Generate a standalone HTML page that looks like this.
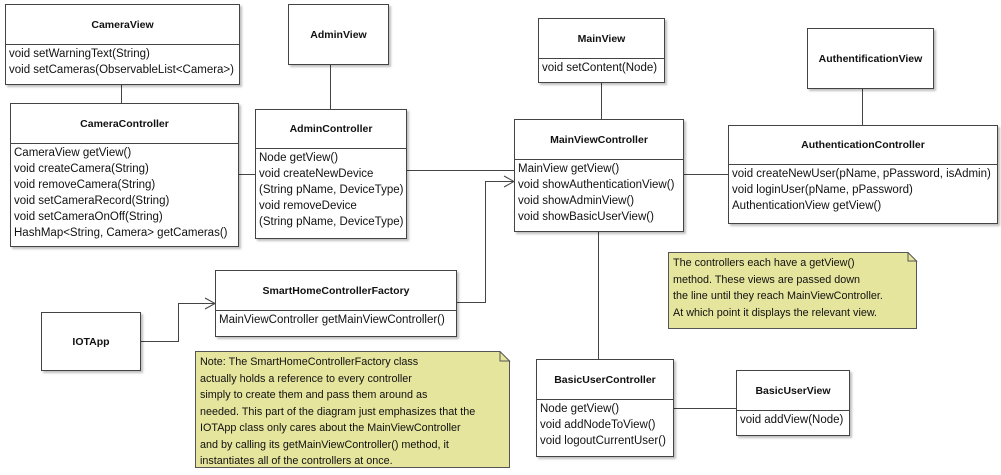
<!DOCTYPE html>
<html><head><meta charset="utf-8"><style>
body{margin:0;width:1001px;height:475px;background:#fff;position:relative;overflow:hidden;font-family:"Liberation Sans",sans-serif;font-size:11.5px;color:#111}
.b{position:absolute;background:#fff;border:1px solid #444;box-sizing:border-box;box-shadow:2px 2px 2px rgba(0,0,0,0.25)}
.t{font-weight:bold;font-size:10.5px;text-align:center;border-bottom:1px solid #444;box-sizing:border-box;display:flex;align-items:center;justify-content:center}
.m{padding:1px 3px;line-height:16px;white-space:nowrap}
.n{position:absolute;background:#e5e59d;border:1px solid #555;box-sizing:border-box;padding:2px 4px;line-height:16.5px;font-size:10.8px;white-space:nowrap;box-shadow:2px 2px 2px rgba(0,0,0,0.2)}
svg{position:absolute;left:0;top:0}
</style></head><body>
<svg width="1001" height="475">
<g stroke="#444" fill="none" stroke-width="1">
<line x1="121.5" y1="85" x2="121.5" y2="103"/>
<line x1="330.5" y1="64" x2="330.5" y2="109"/>
<line x1="238" y1="174.5" x2="255" y2="174.5"/>
<line x1="406" y1="170.5" x2="514" y2="170.5"/>
<polyline points="457,302.5 485.5,302.5 485.5,181.5 514,181.5"/>
<polyline points="504,176 514,181.5 504,187"/>
<polyline points="140,341.5 178.5,341.5 178.5,303.5 215,303.5"/>
<polyline points="205,298 215,303.5 205,309"/>
<line x1="601.5" y1="83" x2="601.5" y2="119"/>
<line x1="683" y1="174.5" x2="728" y2="174.5"/>
<line x1="862.5" y1="88" x2="862.5" y2="125"/>
<line x1="598.5" y1="232" x2="598.5" y2="359"/>
<line x1="673" y1="408.5" x2="736" y2="408.5"/>
</g></svg>

<div class="b" style="left:5px;top:4px;width:235px;height:81px"><div class="t" style="height:40px">CameraView</div><div class="m">void setWarningText(String)<br>void setCameras(ObservableList&lt;Camera&gt;)</div></div>
<div class="b" style="left:10px;top:103px;width:229px;height:144px"><div class="t" style="height:40px">CameraController</div><div class="m">CameraView getView()<br>void createCamera(String)<br>void removeCamera(String)<br>void setCameraRecord(String)<br>void setCameraOnOff(String)<br>HashMap&lt;String, Camera&gt; getCameras()</div></div>
<div class="b" style="left:288px;top:4px;width:101px;height:61px"><div class="t" style="height:59px;border:none">AdminView</div></div>
<div class="b" style="left:255px;top:109px;width:152px;height:130px"><div class="t" style="height:39px">AdminController</div><div class="m">Node getView()<br>void createNewDevice<br>(String pName, DeviceType)<br>void removeDevice<br>(String pName, DeviceType)</div></div>
<div class="b" style="left:538px;top:18px;width:127px;height:65px"><div class="t" style="height:40px">MainView</div><div class="m">void setContent(Node)</div></div>
<div class="b" style="left:514px;top:119px;width:170px;height:113px"><div class="t" style="height:40px">MainViewController</div><div class="m">MainView getView()<br>void showAuthenticationView()<br>void showAdminView()<br>void showBasicUserView()</div></div>
<div class="b" style="left:807px;top:28px;width:127px;height:61px"><div class="t" style="height:59px;border:none">AuthentificationView</div></div>
<div class="b" style="left:728px;top:125px;width:270px;height:99px"><div class="t" style="height:39px">AuthenticationController</div><div class="m">void createNewUser(pName, pPassword, isAdmin)<br>void loginUser(pName, pPassword)<br>AuthenticationView getView()</div></div>
<div class="b" style="left:215px;top:270px;width:242px;height:67px"><div class="t" style="height:40px">SmartHomeControllerFactory</div><div class="m">MainViewController getMainViewController()</div></div>
<div class="b" style="left:41px;top:312px;width:100px;height:59px"><div class="t" style="height:57px;border:none">IOTApp</div></div>
<div class="b" style="left:536px;top:359px;width:138px;height:98px"><div class="t" style="height:40px">BasicUserController</div><div class="m">Node getView()<br>void addNodeToView()<br>void logoutCurrentUser()</div></div>
<div class="b" style="left:736px;top:370px;width:114px;height:66px"><div class="t" style="height:40px">BasicUserView</div><div class="m">void addView(Node)</div></div>

<div class="n" style="left:668px;top:252px;width:249px;height:77px;clip-path:polygon(0 0,240px 0,100% 9px,100% 100%,0 100%)">The controllers each have a getView()<br>method. These views are passed down<br>the line until they reach MainViewController.<br>At which point it displays the relevant view.</div>
<div class="n" style="left:195px;top:351px;width:315px;height:117px;clip-path:polygon(0 0,305px 0,100% 10px,100% 100%,0 100%)">Note: The SmartHomeControllerFactory class<br>actually holds a reference to every controller<br>simply to create them and pass them around as<br>needed. This part of the diagram just emphasizes that the<br>IOTApp class only cares about the MainViewController<br>and by calling its getMainViewController() method, it<br>instantiates all of the controllers at once.</div>
<svg width="1001" height="475"><g stroke="#555" fill="none"><polyline points="908,252.5 916.5,261 908,261 908,252.5"/><polyline points="500,351.5 509.5,361 500,361 500,351.5"/></g></svg>
</body></html>
